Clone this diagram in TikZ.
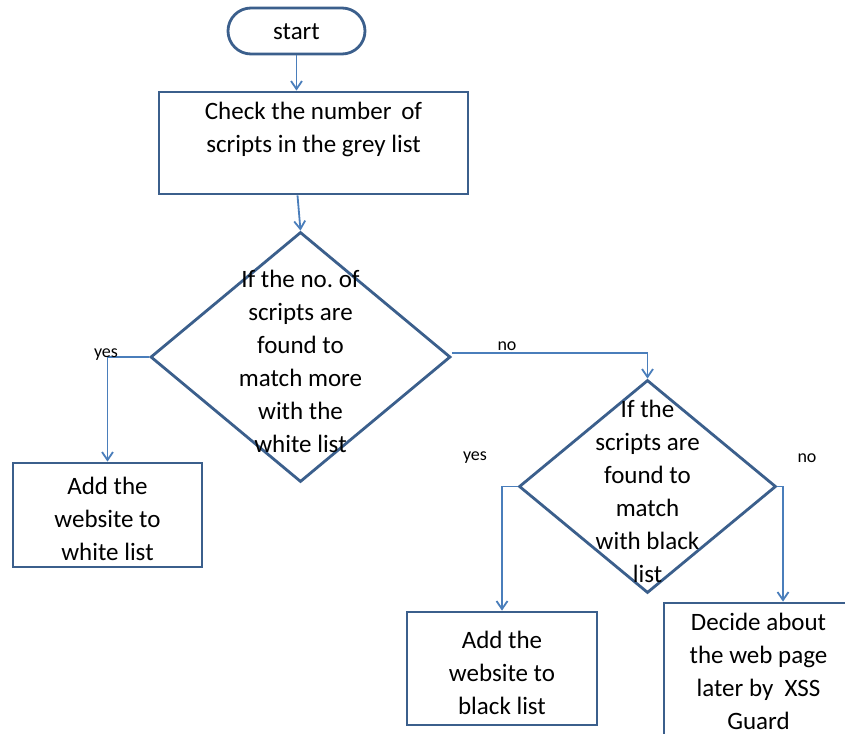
\documentclass[tikz,border=0pt]{standalone}
\usepackage{fontspec}
\setmainfont{Carlito}
\usetikzlibrary{arrows.meta,shapes.geometric}
\definecolor{boxblue}{RGB}{59,95,140}
\definecolor{linkblue}{RGB}{74,126,187}
\frenchspacing
\tikzset{
  shapeline/.style={draw=boxblue,line width=2.8pt},
  boxnode/.style={shapeline,rectangle,inner sep=0pt},
  decnode/.style={shapeline,diamond,inner sep=0pt},
  txt/.style={align=center,font=\fontsize{25}{33}\selectfont,inner sep=0pt},
  lbl/.style={font=\fontsize{18}{20}\selectfont,inner sep=0pt},
  link/.style={draw=linkblue,line width=1.8pt,-{Straight Barb[length=8pt,width=11pt,line width=1.8pt]}}
}
\begin{document}
\begin{tikzpicture}[x=1pt,y=-1pt]
\clip (0,0) rectangle (845,733);
\useasboundingbox (0,0) rectangle (845,733);
\fill[white] (0,0) rectangle (845,733);

% shapes
\node[boxnode,rounded corners=23pt,minimum width=137pt,minimum height=46pt] (start) at (296.5,31) {};
\node[txt] (tstart) at (296.5,32) {start};

\node[boxnode,minimum width=309pt,minimum height=102pt] (box1) at (313.5,143) {};
\node[txt] (t1) at (313.5,129) {Check the number\, of\\scripts in the grey list};

\node[decnode,minimum width=300pt,minimum height=250pt] (d1) at (300.5,357) {};
\node[txt] (td1) at (300.5,361) {If the no. of\\scripts are\\found to\\match more\\with the\\white list};

\node[boxnode,minimum width=189pt,minimum height=104pt] (box2) at (107.5,515) {};
\node[txt] (t2) at (107.5,519) {Add the\\website to\\white list};

\node[decnode,minimum width=257pt,minimum height=213pt] (d2) at (647.5,486.5) {};
\node[txt] (td2) at (647.5,491) {If the\\scripts are\\found to\\match\\with black\\list};

\node[boxnode,minimum width=190pt,minimum height=113pt] (box3) at (502,668.5) {};
\node[txt] (t3) at (502,673) {Add the\\website to\\black list};

\node[boxnode,minimum width=190pt,minimum height=160pt] (box4) at (759,683) {};
\node[txt] (t4) at (758.5,671) {Decide about\\the web page\\later by\ \ XSS\\Guard};

% connectors
\draw[link] (start.south) -- (start.south |- box1.north);
\draw[link] ([xshift=-3pt]d1.north |- box1.south) -- (d1.north);
\draw[link] (d1.west) -| (box2.north);
\draw[link] ([yshift=4pt]d1.east) -| (d2.north);
\draw[link] (d2.west) -| (box3.north);
\draw[link] (d2.east) -| ([xshift=24pt]box4.north);

% labels
\node[lbl] (lyes1) at (106,355) {yes};
\node[lbl] (lno1) at (507,346) {no};
\node[lbl] (lyes2) at (475,458) {yes};
\node[lbl] (lno2) at (807,458) {no};
\end{tikzpicture}
\end{document}
